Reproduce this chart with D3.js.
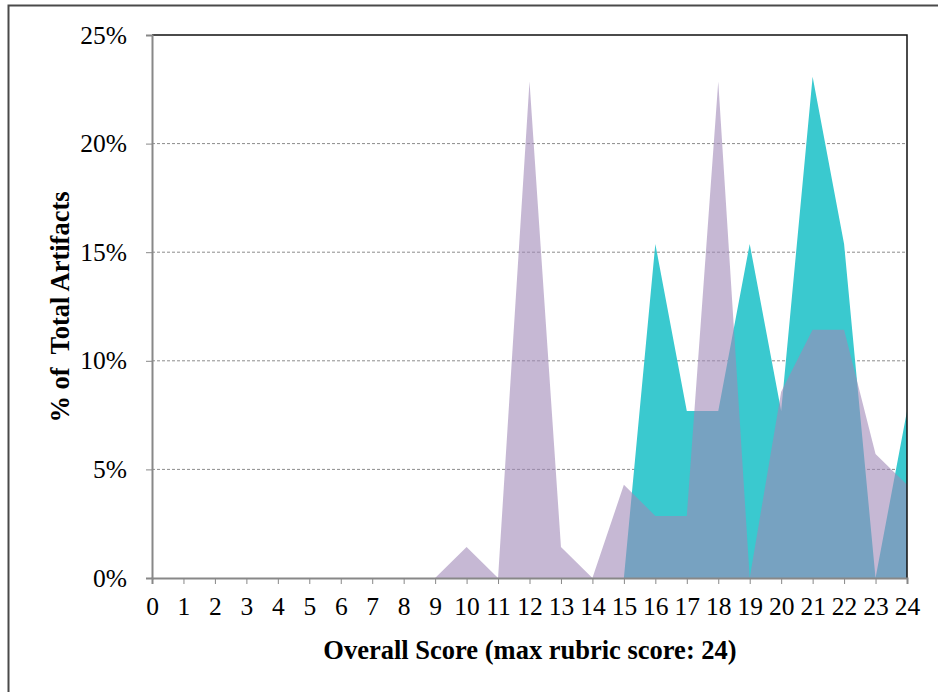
<!DOCTYPE html>
<html><head><meta charset="utf-8">
<script src="https://cdn.jsdelivr.net/npm/d3@7"></script>
<style>body{margin:0;background:#fff}svg{display:block}</style>
</head><body>
<svg id="c" width="938" height="692"></svg>
<script>
const scores = d3.range(0, 25);
const xTickLabels = scores.map(String);
const yTicks = [0, 5, 10, 15, 20, 25];
// % of total artifacts per overall score
const tealValues   = [0,0,0,0,0,0,0,0,0,0,0,0,0,0,0,0,15.38,7.69,7.69,15.38,7.69,23.08,15.38,0,7.69];
const purpleValues = [0,0,0,0,0,0,0,0,0,0,1.43,0,22.86,1.43,0,4.29,2.86,2.86,22.86,0,8.57,11.43,11.43,5.71,4.29];
const yTitle = "% of  Total Artifacts";
const xTitle = "Overall Score (max rubric score: 24)";

const svg = d3.select("#c");
const L = 152, R = 907, T = 35, B = 578;
const FONT = "Liberation Serif, Times New Roman, serif";
const x = d3.scalePoint().domain(scores).range([L, R]).padding(0);
const y = d3.scaleLinear().domain([0, 25]).range([B, T]);

// outer frame (cropped on right/bottom)
svg.append("path").attr("d", `M8.5,692 V5.5 H938`).attr("fill","none").attr("stroke","#4a4a4a").attr("stroke-width",2);

// gridlines
svg.append("g").selectAll("line").data(yTicks.filter(d => d > 0 && d < 25)).join("line")
  .attr("x1", L).attr("x2", R).attr("y1", d => y(d)).attr("y2", d => y(d))
  .attr("stroke", "#8c8c8c").attr("stroke-width", 1).attr("stroke-dasharray", "3,2");

const area = d3.area().x((d, i) => x(scores[i])).y0(y(0)).y1(d => y(d));
svg.append("path").datum(tealValues).attr("d", area).attr("fill", "#3ac9cf");
svg.append("path").datum(purpleValues).attr("d", area).attr("fill", "#a089b7").attr("fill-opacity", 0.6);

// plot frame top & right
svg.append("path").attr("d", `M${L},${T} H${R} V${B}`).attr("fill","none").attr("stroke","#111").attr("stroke-width",1.5);

// axes
const xAxis = d3.axisBottom(x).tickSize(6).tickFormat((d, i) => xTickLabels[i]);
const gx = svg.append("g").attr("transform", `translate(0,${B})`).call(xAxis);
gx.select(".domain").attr("stroke", "#888").attr("stroke-width", 2);
gx.selectAll(".tick line").attr("stroke", "#888").attr("stroke-width", 1);
gx.selectAll(".tick text").attr("font-family", FONT)
  .attr("font-size", 25.5).attr("fill", "#000").attr("y", 14).attr("dy", "0.9em");

const yAxis = d3.axisLeft(y).tickValues(yTicks).tickSize(6).tickFormat(d => d + "%");
const gy = svg.append("g").attr("transform", `translate(${L},0)`).call(yAxis);
gy.select(".domain").attr("stroke", "#888").attr("stroke-width", 2);
gy.selectAll(".tick line").attr("stroke", "#888").attr("stroke-width", 1);
gy.selectAll(".tick text").attr("font-family", FONT)
  .attr("font-size", 25.5).attr("fill", "#000").attr("x", -25);

svg.append("text").attr("x", 530).attr("y", 659).attr("text-anchor", "middle")
  .attr("font-family", FONT).attr("font-weight", "bold")
  .attr("font-size", 26.5).text(xTitle);
svg.append("text").attr("transform", "translate(69,307) rotate(-90)").attr("text-anchor", "middle")
  .attr("font-family", FONT).attr("font-weight", "bold")
  .attr("font-size", 26.5).style("white-space","pre").text(yTitle);
</script>
</body></html>
